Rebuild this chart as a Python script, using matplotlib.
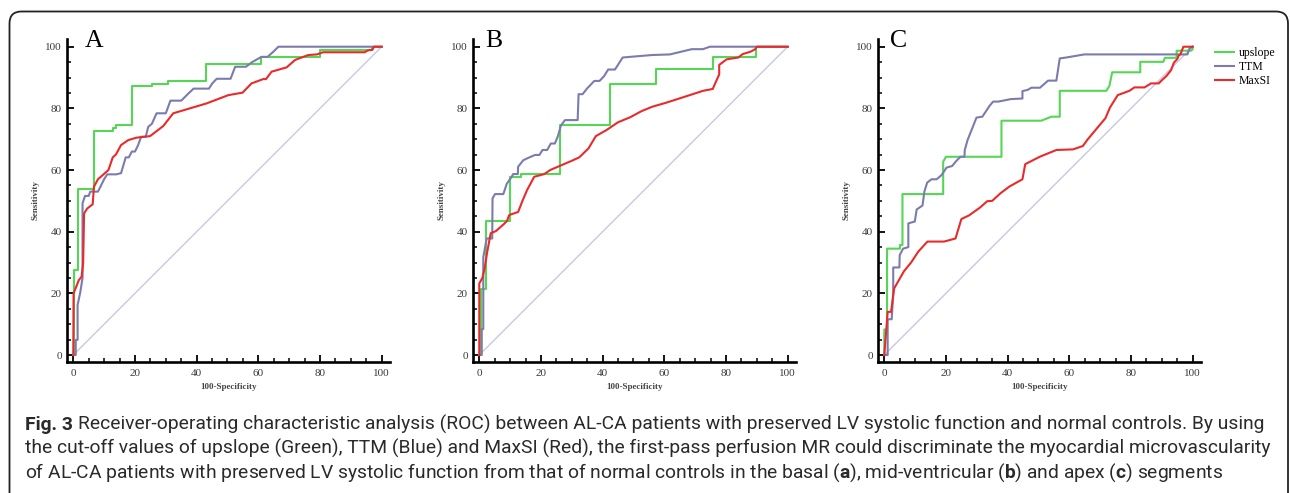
import matplotlib
matplotlib.use("Agg")
import matplotlib.pyplot as plt
from matplotlib.patches import FancyBboxPatch
from matplotlib.ticker import MultipleLocator

cap_font = "Roboto"
plt.rcParams["mathtext.fontset"] = "custom"
plt.rcParams["mathtext.rm"] = cap_font
plt.rcParams["mathtext.bf"] = cap_font + ":bold"

# ---- ROC curves (100-specificity, sensitivity) ----
# panel A: basal
a_up_x = [0, 0.3, 0.3, 1.6, 1.6, 6.7, 6.7, 12.8, 12.8, 14, 14, 18.9, 18.9, 25.4, 25.4,
          30.8, 30.8, 42.9, 42.9, 61, 61, 80, 80, 96.8, 96.8, 100]
a_up_y = [0, 0, 27.6, 27.6, 54, 54, 72.8, 72.8, 73.5, 73.5, 74.5, 74.5, 87.2, 87.2, 88,
          88, 89, 89, 94.5, 94.5, 96.8, 96.8, 98.9, 98.9, 100, 100]
a_ttm_x = [0, 0.8, 0.8, 1.4, 1.4, 2.3, 3.0, 3.0, 3.8, 5.0, 5.5, 8.0, 9.0, 10.0, 11.0, 14.0,
           15.5, 17.0, 18.0, 19.0, 20.0, 21.0, 22.0, 23.5, 24.3, 25.5, 27.0, 30.0, 31.5,
           35.0, 37.0, 39.0, 44.0, 45.0, 46.5, 51.0, 52.5, 56.0, 58.0, 61.0, 63.0, 65.0,
           66.5, 100]
a_ttm_y = [0, 0, 4.9, 4.9, 16.2, 20.5, 25, 49.2, 51.6, 51.6, 53, 53, 55, 57, 58.6, 58.6,
           59, 64.1, 64.1, 66, 66, 68, 70.8, 70.8, 74, 75, 78.4, 78.4, 82.5, 82.5, 84.5,
           86.4, 86.4, 88, 89.6, 89.6, 93.5, 93.5, 95, 96.7, 96.7, 98.5, 100, 100]
a_max_x = [0, 0.1, 1.8, 2.7, 3.2, 3.5, 4.5, 6.3, 6.7, 8.0, 11.4, 12.8, 13.8, 15.5, 17.8,
           20.5, 24.9, 29.2, 32.4, 43.2, 50.3, 54.9, 57.8, 61.6, 62.5, 64.3, 69.2, 71.9,
           76.2, 79.0, 81.0, 94.5, 95.5, 97.0, 97.5, 100]
a_max_y = [0, 20, 24.3, 25.4, 29.7, 45.9, 47.5, 48.9, 54.6, 57, 60, 64.1, 65, 68.1, 69.7,
           70.5, 71, 74.3, 78.4, 81.6, 84.3, 85.1, 88.1, 89.5, 89.5, 91.9, 93.3, 95.7,
           97.3, 97.5, 98.2, 98.2, 98.8, 99, 100, 100]

# panel B: mid-ventricular
b_up_x = [0, 0.7, 0.7, 2.1, 2.1, 9.9, 9.9, 13.5, 13.5, 26.2, 26.2, 42.4, 42.4, 57.2, 57.2,
          75.7, 75.7, 89.7, 89.7, 100]
b_up_y = [0, 0, 21.4, 21.4, 43.5, 43.5, 57.8, 57.8, 58.7, 58.7, 74.5, 74.5, 87.9, 87.9,
          92.8, 92.8, 96.8, 96.8, 100, 100]
b_ttm_x = [0, 0.8, 0.8, 1.3, 1.3, 2.4, 4.2, 4.3, 5.1, 7.8, 8.9, 10.5, 11.0, 12.5, 12.6,
           14.3, 16.0, 18.1, 19.5, 20.5, 22.0, 23.2, 24.5, 25.5, 26.5, 27.8, 31.9, 32.2,
           33.5, 35.0, 37.3, 39.0, 40.5, 41.8, 44.0, 46.5, 50.0, 56.0, 61.8, 66.0, 68.9,
           72.5, 74.8, 100]
b_ttm_y = [0, 0, 8.4, 8.4, 31.7, 37.8, 37.8, 50.8, 52.2, 52.2, 55.5, 57.8, 58.7, 58.7,
           61.1, 63.2, 64, 64.9, 64.9, 66.5, 66.5, 68.6, 68.6, 71, 74.5, 76.2, 76.2, 84.6,
           84.6, 86.5, 88.9, 88.9, 90.5, 92.6, 92.6, 96.5, 96.8, 97.3, 97.5, 98.5, 99.2,
           99.2, 100, 100]
b_max_x = [0, 0, 1.0, 1.8, 2.5, 3.7, 5.4, 8.0, 9.0, 9.7, 12.6, 14.0, 15.5, 17.8, 21.1,
           23.0, 26.7, 30.0, 32.4, 35.4, 37.8, 41.3, 45.0, 48.9, 52.6, 56.0, 60.8, 66.7,
           72.6, 75.7, 77.2, 77.8, 77.8, 79.0, 80.2, 84.0, 85.4, 88.0, 89.5, 90.0, 100]
b_max_y = [0, 23.2, 25, 28.4, 33, 39.5, 40.2, 42.5, 43.5, 45.4, 46.4, 50, 53.5, 57.8, 58.7,
           60, 61.6, 63, 64.1, 67, 71, 73, 75.5, 77.1, 79.1, 80.5, 81.9, 83.8, 85.7, 86.3,
           89.7, 91, 94.1, 95, 95.9, 96.5, 97.6, 98.4, 99.2, 100, 100]

# panel C: apex
c_up_x = [0, 0, 0.9, 0.9, 5.1, 5.1, 5.9, 5.9, 19.1, 19.1, 20.0, 38.0, 38.0, 50.9, 54.2,
          56.9, 56.9, 72.0, 72.5, 73.0, 73.9, 83.0, 83.0, 90.5, 91.0, 94.8, 94.8, 99.5,
          100, 100]
c_up_y = [0, 8.3, 8.3, 34.5, 34.5, 35.7, 35.7, 52.2, 52.2, 62.7, 64.3, 64.3, 76, 76, 77.3,
          77.3, 85.7, 85.7, 86.5, 87.3, 91.7, 91.7, 95.1, 95.1, 96.4, 96.4, 98.7, 98.7,
          99.2, 100]
c_ttm_x = [0, 1.1, 1.1, 2.4, 2.9, 2.9, 4.9, 5.0, 6.1, 7.8, 7.8, 9.9, 10.5, 12.4, 13.0,
           13.9, 15.3, 17.0, 18.6, 20.2, 22.0, 23.4, 24.7, 26.0, 26.1, 27.0, 29.9, 31.8,
           34.2, 35.3, 37.0, 41.0, 44.8, 44.8, 46.5, 47.7, 50.5, 53.1, 55.8, 56.9, 59.0,
           64.9, 98.3, 99.0, 100]
c_ttm_y = [0, 0, 11.6, 11.6, 20, 28.4, 28.4, 32.4, 34.5, 35, 42.7, 43.3, 47.2, 48.5, 53,
           55.9, 57, 57, 58.4, 60.8, 61.3, 63, 64.3, 64.3, 66.5, 69.7, 77, 77.3, 80.9,
           82.2, 82.2, 83, 83.2, 85.6, 86, 86.7, 86.7, 89, 89, 96.2, 96.5, 97.5, 97.5,
           99.5, 100]
c_max_x = [0, 1.1, 2.2, 3.2, 4.0, 6.4, 8.7, 11.0, 14.0, 19.4, 23.1, 25.0, 27.5, 31.0,
           33.4, 35.0, 37.6, 40.5, 44.8, 45.7, 50.4, 55.8, 61.2, 64.4, 66.0, 71.7, 73.2,
           75.7, 79.5, 81.1, 84.4, 86.5, 89.0, 90.3, 91.5, 93.0, 93.9, 95.0, 95.5, 96.0,
           97.0, 100]
c_max_y = [0, 14, 14, 21.6, 23, 27.2, 30, 33.5, 36.8, 36.8, 37.8, 44.1, 45.3, 47.8, 49.9,
           50, 52.4, 54.6, 57, 61.9, 64.3, 66.5, 66.7, 67.8, 70, 76.8, 80.3, 84.3, 85.7,
           86.8, 86.8, 88.1, 88.1, 89.4, 90.5, 92.4, 94.8, 96, 97.2, 97.5, 100, 100]

panel_letters = ["A", "B", "C"]
series_names = ["upslope", "TTM", "MaxSI"]
series_colors = ["#55d655", "#7b7bae", "#ea2a2a"]

caption_head = "Fig. 3"
caption_lines = [
    "Receiver-operating characteristic analysis (ROC) between AL-CA "
    "patients with preserved LV systolic function and normal controls. By using",
    "the cut-off values of upslope (Green), TTM (Blue) and MaxSI (Red), the first-pass "
    "perfusion MR could discriminate the myocardial microvascularity",
    r"of AL-CA patients with preserved LV systolic function from that of normal controls "
    r"in the basal ($\mathbf{a}$), mid-ventricular ($\mathbf{b}$) and apex "
    r"($\mathbf{c}$) segments",
]

W, H = 1290, 493
fig = plt.figure(figsize=(W / 100, H / 100), dpi=100)

panels = [
    [(a_up_x, a_up_y), (a_ttm_x, a_ttm_y), (a_max_x, a_max_y)],
    [(b_up_x, b_up_y), (b_ttm_x, b_ttm_y), (b_max_x, b_max_y)],
    [(c_up_x, c_up_y), (c_ttm_x, c_ttm_y), (c_max_x, c_max_y)],
]
lefts = [66.8, 472.8, 877.8]
serif = "Liberation Serif"

axes = []
for left, curves in zip(lefts, panels):
    ax = fig.add_axes([left / W, (H - 361.8) / H, 323.2 / W, 322.8 / H])
    ax.plot([0, 100], [0, 100], color="#c8c8e2", lw=1.0, zorder=1)
    for (x, y), name, col in zip(curves, series_names, series_colors):
        ax.plot(x, y, color=col, lw=1.5, label=name, zorder=3 if name == "MaxSI" else 2)
    ax.set_xlim(-2.1, 102.7)
    ax.set_ylim(-2.2, 102.5)
    for s in ["top", "right"]:
        ax.spines[s].set_visible(False)
    for s in ["left", "bottom"]:
        ax.spines[s].set_linewidth(1.9)
    ax.xaxis.set_major_locator(MultipleLocator(20))
    ax.yaxis.set_major_locator(MultipleLocator(20))
    ax.xaxis.set_minor_locator(MultipleLocator(5))
    ax.yaxis.set_minor_locator(MultipleLocator(5))
    ax.tick_params(which="major", direction="in", length=5, width=1.3,
                   labelsize=8, labelcolor="#3a3a3a")
    ax.tick_params(which="minor", direction="in", length=3.2, width=1.1)
    ax.tick_params(axis="x", pad=5.5)
    ax.tick_params(axis="y", pad=3.5)
    for lab in ax.get_xticklabels() + ax.get_yticklabels():
        lab.set_family(serif)
    ax.set_xlabel("100-Specificity", fontsize=6.5, family=serif, fontweight="bold",
                  color="#444444", labelpad=3)
    ax.set_ylabel("Sensitivity", fontsize=6.5, family=serif, fontweight="bold",
                  color="#444444", labelpad=4)
    axes.append(ax)

fig.legend(*axes[2].get_legend_handles_labels(), loc="upper left",
           bbox_to_anchor=(1209 / W, 1 - 41 / H), frameon=False, borderpad=0,
           prop={"family": serif, "size": 8.5}, handlelength=1.6,
           handletextpad=0.45, labelspacing=0.18)

# overlay in pixel units for border, letters and caption
ov = fig.add_axes([0, 0, 1, 1])
ov.set_xlim(0, W)
ov.set_ylim(H, 0)
ov.axis("off")
ov.patch.set_alpha(0)

ov.add_patch(FancyBboxPatch((9.5, 11.5), 1278.5, 530,
                            boxstyle="round,pad=0,rounding_size=12",
                            fill=False, lw=1.3, ec="#222222", clip_on=False))

for left, letter in zip([85, 485, 890], panel_letters):
    ov.text(left, 47, letter, fontsize=18.5, family=serif, va="baseline", ha="left")

# caption: first line is fitted to the box width, the rest use the same size
cap_col = "#2a2a2a"
cap_texts = []
head = ov.text(25, 430, caption_head, family=cap_font, fontweight="bold",
               fontsize=11, color=cap_col, va="baseline", ha="left")
first = ov.annotate(caption_lines[0], xy=(1, 430), xycoords=(head, "data"),
                    xytext=(3.5, 0), textcoords="offset points", family=cap_font,
                    fontsize=11, color=cap_col, va="baseline", ha="left")
cap_texts += [head, first]
for i, line in enumerate(caption_lines[1:], start=1):
    cap_texts.append(ov.text(25, 430 + 24 * i, line, family=cap_font, fontsize=11,
                             color=cap_col, va="baseline", ha="left"))
renderer = fig.canvas.get_renderer()
right = first.get_window_extent(renderer).x1
scale = (1256 - 25) / (right - 25)
for t in cap_texts:
    t.set_fontsize(11 * scale)

fig.savefig("out.png", dpi=100)
